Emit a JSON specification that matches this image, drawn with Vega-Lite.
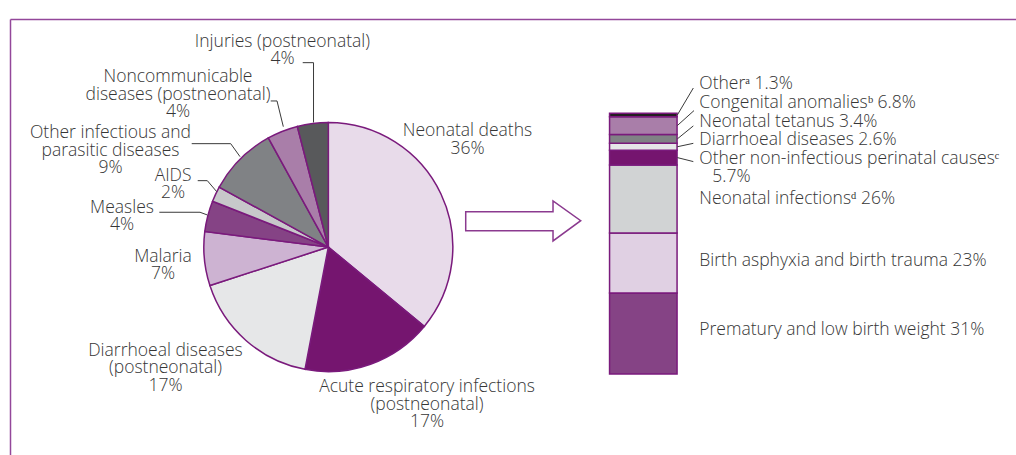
{
  "$schema": "https://vega.github.io/schema/vega-lite/v6.json",
  "width": 1016,
  "height": 455,
  "autosize": {"type": "fit", "contains": "padding"},
  "padding": {"left": 10, "top": 19, "right": 0, "bottom": 0},
  "background": "white",
  "config": {
    "view": {"stroke": null},
    "axis": {"domain": true, "domainColor": "#93479a", "domainWidth": 1.5, "ticks": false, "labels": false, "grid": false},
    "text": {"font": "Open Sans", "fontSize": 17.5, "fontWeight": 300, "color": "#363636"}
  },
  "datasets": {
    "pie": [
      {"cause": "Neonatal deaths", "pct": 36, "order": 1, "label": ["Neonatal deaths", "36%"]},
      {"cause": "Acute respiratory infections (postneonatal)", "pct": 17, "order": 2, "label": ["Acute respiratory infections", "(postneonatal)", "17%"]},
      {"cause": "Diarrhoeal diseases (postneonatal)", "pct": 17, "order": 3, "label": ["Diarrhoeal diseases", "(postneonatal)", "17%"]},
      {"cause": "Malaria", "pct": 7, "order": 4, "label": ["Malaria", "7%"]},
      {"cause": "Measles", "pct": 4, "order": 5, "label": ["Measles", "4%"]},
      {"cause": "AIDS", "pct": 2, "order": 6, "label": ["AIDS", "2%"]},
      {"cause": "Other infectious and parasitic diseases", "pct": 9, "order": 7, "label": ["Other infectious and", "parasitic diseases", "9%"]},
      {"cause": "Noncommunicable diseases (postneonatal)", "pct": 4, "order": 8, "label": ["Noncommunicable", "diseases (postneonatal)", "4%"]},
      {"cause": "Injuries (postneonatal)", "pct": 4, "order": 9, "label": ["Injuries (postneonatal)", "4%"]}
    ],
    "neonatal": [
      {"cause": "Prematurity and low birth weight", "pct": 31, "order": 1, "label": ["Prematury and low birth weight 31%"]},
      {"cause": "Birth asphyxia and birth trauma", "pct": 23, "order": 2, "label": ["Birth asphyxia and birth trauma 23%"]},
      {"cause": "Neonatal infections", "pct": 26, "order": 3, "label": ["Neonatal infectionsᵈ 26%"]},
      {"cause": "Other non-infectious perinatal causes", "pct": 5.7, "order": 4, "label": ["Other non-infectious perinatal causesᶜ", "\u28005.7%"]},
      {"cause": "Diarrhoeal diseases", "pct": 2.6, "order": 5, "label": ["Diarrhoeal diseases 2.6%"]},
      {"cause": "Neonatal tetanus", "pct": 3.4, "order": 6, "label": ["Neonatal tetanus 3.4%"]},
      {"cause": "Congenital anomalies", "pct": 6.8, "order": 7, "label": ["Congenital anomaliesᵇ 6.8%"]},
      {"cause": "Other", "pct": 1.3, "order": 8, "label": ["Otherᵃ 1.3%"]}
    ]
  },
  "layer": [
    {
      "data": {"name": "neonatal"},
      "mark": {"type": "bar", "stroke": "#7a1a7c", "strokeWidth": 1.5},
      "encoding": {
        "x": {"datum": "Neonatal deaths", "type": "nominal",
              "scale": {"type": "band", "domain": ["Under-five deaths", "Neonatal deaths"], "paddingInner": 0.7857, "paddingOuter": 0.9897, "align": 0.4564},
              "axis": {"orient": "top", "title": null}},
        "y": {"field": "pct", "type": "quantitative", "stack": "zero",
              "scale": {"domain": [-31, 135.9], "nice": false, "zero": false},
              "axis": {"orient": "left", "title": null}},
        "order": {"field": "order", "type": "quantitative"},
        "color": {"field": "cause", "type": "nominal", "legend": null,
          "scale": {
            "domain": ["Neonatal deaths", "Acute respiratory infections (postneonatal)", "Diarrhoeal diseases (postneonatal)", "Malaria", "Measles", "AIDS", "Other infectious and parasitic diseases", "Noncommunicable diseases (postneonatal)", "Injuries (postneonatal)", "Prematurity and low birth weight", "Birth asphyxia and birth trauma", "Neonatal infections", "Other non-infectious perinatal causes", "Diarrhoeal diseases", "Neonatal tetanus", "Congenital anomalies", "Other"],
            "range": ["#e8dbea", "#75156f", "#e6e7e8", "#cdb3d2", "#854385", "#c7c8ca", "#808285", "#a97ea9", "#58595b", "#854385", "#e0d0e3", "#d1d3d4", "#75156f", "#e6e7e8", "#808285", "#a97ea9", "#231f20"]
          }}
      }
    },
    {
      "data": {"name": "pie"},
      "mark": {"type": "arc", "outerRadius": 124.5, "stroke": "#7a1a7c", "strokeWidth": 1.5},
      "encoding": {
        "x": {"datum": "Under-five deaths", "type": "nominal", "axis": {"orient": "top", "title": null}},
        "y": {"datum": 48.6, "type": "quantitative", "axis": {"orient": "left", "title": null}},
        "theta": {"field": "pct", "type": "quantitative", "stack": true},
        "order": {"field": "order", "type": "quantitative"},
        "color": {"field": "cause", "type": "nominal", "legend": null}
      }
    },
    {
      "data": {"name": "pie"},
      "mark": {"type": "text", "radius": 160, "align": "center", "baseline": "middle", "lineHeight": 17.5,
               "dx": {"expr": "[-5.6, 44.5, -57, -6, -51.3, -10.5, -104.7, -91.4, -25.8][datum.order - 1]"},
               "dy": {"expr": "[-47.75, -10.1, -16.1, -5.45, 0.45, -3.25, -0.9, -20.8, -46.65][datum.order - 1]"}},
      "encoding": {
        "x": {"datum": "Under-five deaths", "type": "nominal", "axis": {"orient": "top", "title": null}},
        "y": {"datum": 48.6, "type": "quantitative", "axis": {"orient": "left", "title": null}},
        "theta": {"field": "pct", "type": "quantitative", "stack": true},
        "order": {"field": "order", "type": "quantitative"},
        "text": {"field": "label"}
      }
    },
    {
      "data": {"name": "pie"},
      "transform": [{"filter": "datum.order >= 5"}],
      "mark": {"type": "point", "filled": false, "opacity": 1, "stroke": "#3a3a3a", "strokeWidth": 1, "size": 4},
      "encoding": {
        "x": {"datum": "Under-five deaths", "type": "nominal", "axis": {"orient": "top", "title": null}},
        "y": {"datum": 48.6, "type": "quantitative", "axis": {"orient": "left", "title": null}},
        "shape": {"field": "cause", "type": "nominal", "legend": null,
          "scale": {
            "domain": ["Measles", "AIDS", "Other infectious and parasitic diseases", "Noncommunicable diseases (postneonatal)", "Injuries (postneonatal)", "Prematurity and low birth weight", "Birth asphyxia and birth trauma", "Neonatal infections", "Other non-infectious perinatal causes", "Diarrhoeal diseases", "Neonatal tetanus", "Congenital anomalies", "Other"],
            "range": ["M-169,-34.8L-128.3,-34.8L-121,-32.1", "M-130.6,-66.4L-121,-66.4L-111.6,-55.4", "M-136.6,-103.4L-97.6,-103.4L-88.3,-90.4", "M-57.6,-146.1L-51.3,-146.1L-45,-120.4", "M-25.6,-184.4L-14.8,-184.4L-14.8,-124.6", "M0,0", "M0,0", "M0,0", "M34,0L50,4", "M34,0L50,-3.4", "M34,0L50,-13", "M34,0L50.7,-15", "M34,0L50,-27"]
          }}
      }
    },
    {
      "data": {"name": "pie"},
      "transform": [{"filter": "datum.order == 1"}],
      "mark": {"type": "point", "filled": true, "opacity": 1, "fill": "white", "stroke": "#8b3a8f", "strokeWidth": 1.5, "size": 4,
               "shape": "M137.4,-35.4L224.7,-35.4L224.7,-46.1L252.4,-26.4L224.7,-6.1L224.7,-16.4L137.4,-16.4Z"},
      "encoding": {
        "x": {"datum": "Under-five deaths", "type": "nominal", "axis": {"orient": "top", "title": null}},
        "y": {"datum": 48.6, "type": "quantitative", "axis": {"orient": "left", "title": null}}
      }
    },
    {
      "data": {"name": "neonatal"},
      "mark": {"type": "text", "align": "left", "baseline": "middle", "lineHeight": 17.5, "dx": 56,
               "dy": {"expr": "[-4, -1.5, 0, 1.5, -6.7, -17, -23, -31][datum.order - 1]"}},
      "encoding": {
        "x": {"datum": "Neonatal deaths", "type": "nominal", "axis": {"orient": "top", "title": null}},
        "y": {"field": "pct", "type": "quantitative", "stack": "zero", "bandPosition": 0.5, "axis": {"orient": "left", "title": null}},
        "order": {"field": "order", "type": "quantitative"},
        "text": {"field": "label"}
      }
    },
    {
      "data": {"name": "neonatal"},
      "mark": {"type": "point", "filled": false, "opacity": 1, "stroke": "#3a3a3a", "strokeWidth": 1, "size": 4},
      "encoding": {
        "x": {"datum": "Neonatal deaths", "type": "nominal", "axis": {"orient": "top", "title": null}},
        "y": {"field": "pct", "type": "quantitative", "stack": "zero", "bandPosition": 0.5, "axis": {"orient": "left", "title": null}},
        "order": {"field": "order", "type": "quantitative"},
        "shape": {"field": "cause", "type": "nominal", "legend": null}
      }
    }
  ]
}
